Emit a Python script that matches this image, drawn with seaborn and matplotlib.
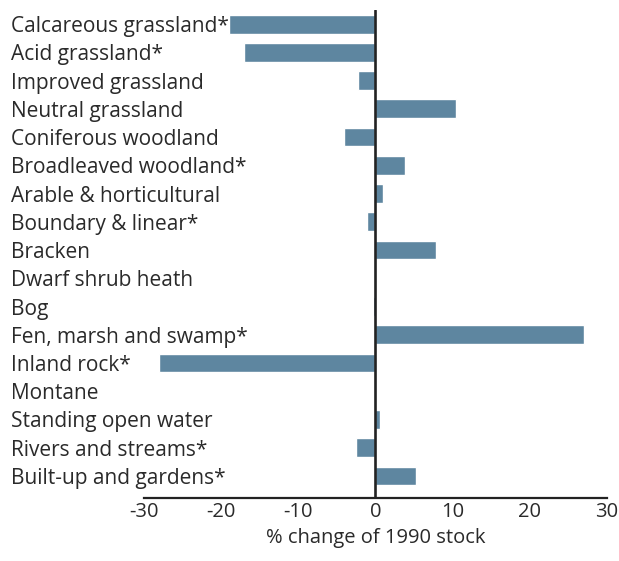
import pandas as pd
import matplotlib.pyplot as plt
import seaborn as sns

sns.set_style("white")
plt.rcParams['font.family'] = ['Open Sans', 'DejaVu Sans']

habitats = [
    "Calcareous grassland*", "Acid grassland*", "Improved grassland",
    "Neutral grassland", "Coniferous woodland", "Broadleaved woodland*",
    "Arable & horticultural", "Boundary & linear*", "Bracken",
    "Dwarf shrub heath", "Bog", "Fen, marsh and swamp*", "Inland rock*",
    "Montane", "Standing open water", "Rivers and streams*",
    "Built-up and gardens*",
]
pct_change = [-19.0, -17.0, -2.2, 10.4, -4.1, 3.9, 0.95, -1.1, 7.9,
              0.0, -0.35, 27.1, -28.0, 0.0, 0.65, -2.55, 5.3]
xticks = [-30, -20, -10, 0, 10, 20, 30]

df = pd.DataFrame({"habitat": habitats, "change": pct_change})

fig = plt.figure(figsize=(6.19, 5.61), dpi=100)
ax = fig.add_axes([0.2326, 0.1123, 0.7475, 0.87])

sns.barplot(data=df, y="habitat", x="change", color="#5e86a0",
            width=0.67, saturation=1, ax=ax)

ax.axvline(0, color="#222222", lw=1.9, zorder=5)
ax.set_xlim(-30, 30)
ax.set_ylim(16.78, -0.5)
ax.set_xticks(xticks)
ax.set_xticklabels([str(t) for t in xticks])

for s in ["top", "right", "left"]:
    ax.spines[s].set_visible(False)
ax.spines["bottom"].set_color("#222222")
ax.spines["bottom"].set_linewidth(1.6)

ax.tick_params(axis="x", direction="in", length=7, width=1.6, color="#222222",
               labelsize=14.5, labelcolor="#2a2a2a", pad=3)
ax.tick_params(axis="y", length=0, labelsize=15, labelcolor="#2a2a2a", pad=96)
for lbl in ax.get_yticklabels():
    lbl.set_ha("left")

ax.set_ylabel("")
ax.set_xlabel("% change of 1990 stock", fontsize=14.5, color="#2a2a2a", labelpad=4)

plt.savefig("out.png", dpi=100)
